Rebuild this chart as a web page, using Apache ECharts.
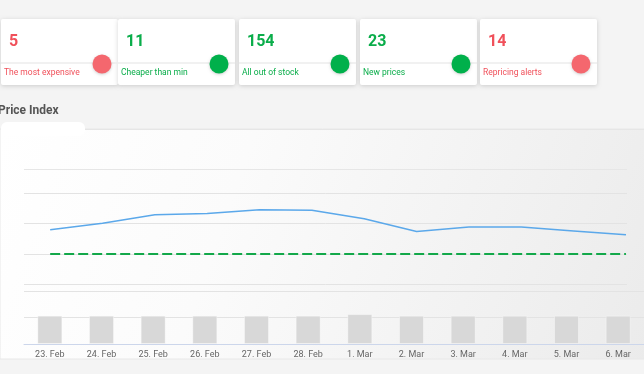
<!DOCTYPE html>
<html>
<head>
<meta charset="utf-8">
<script src="https://cdn.jsdelivr.net/npm/echarts@6/dist/echarts.min.js"></script>
<style>
html,body{margin:0;padding:0;background:#f4f4f4;}
#c{width:644px;height:374px;}
</style>
</head>
<body>
<div id="c"></div>
<script>
const categories = ['23. Feb','24. Feb','25. Feb','26. Feb','27. Feb','28. Feb','1. Mar','2. Mar','3. Mar','4. Mar','5. Mar','6. Mar'];
const priceIndex = [108.0, 110.1, 112.9, 113.3, 114.6, 114.4, 111.6, 107.4, 108.9, 108.9, 107.6, 106.3];
const targetIndex = [100, 100, 100, 100, 100, 100, 100, 100, 100, 100, 100, 100];
const volumes = [109, 109, 109, 109, 109, 109, 115, 109, 109, 109, 109, 109];
const kpiValues = [5, 11, 154, 23, 14];
const kpiLabels = ['The most expensive', 'Cheaper than min', 'All out of stock', 'New prices', 'Repricing alerts'];
const kpiGood = [false, true, true, true, false];
const titleText = 'Price Index';

const RED = '#f0505a', RED_DOT = '#f4676e', GREEN = '#0aad4a', GREEN_DOT = '#00b04b';
const font = 'Roboto, "Noto Sans", sans-serif';

const graphics = [];
graphics.push({
  type: 'rect', z: -10, silent: true,
  shape: { x: 0, y: 129, width: 650, height: 230 },
  style: {
    fill: new echarts.graphic.LinearGradient(0, 0, 1, 1, [
      { offset: 0, color: '#ffffff' },
      { offset: 0.35, color: '#fbfbfb' },
      { offset: 1, color: '#ebebeb' }
    ]),
    stroke: '#e8e8e8', lineWidth: 1
  }
});
graphics.push({
  type: 'rect', z: -9, silent: true,
  shape: { x: 1, y: 122, width: 84, height: 14, r: 6 },
  style: { fill: '#ffffff' }
});
graphics.push({
  type: 'line', z: -9, silent: true,
  shape: { x1: 85, y1: 129.5, x2: 650, y2: 129.5 },
  style: { stroke: '#e6e6e6', lineWidth: 1 }
});
graphics.push({
  type: 'text', left: -2, top: 105,
  style: { text: titleText, font: 'bold 12px ' + font, fill: '#555555' }
});
const cardX = [1, 118, 239, 360, 480];
kpiValues.forEach(function (v, i) {
  const x = cardX[i];
  const w = 117;
  const good = kpiGood[i];
  graphics.push({
    type: 'rect', z: 1, silent: true,
    shape: { x: x, y: 19, width: w, height: 66, r: 2 },
    style: { fill: '#ffffff', shadowBlur: 4, shadowColor: 'rgba(0,0,0,0.16)', shadowOffsetY: 1 }
  });
  graphics.push({
    type: 'line', z: 2, silent: true,
    shape: { x1: x, y1: 63, x2: x + w, y2: 63 },
    style: { stroke: '#ececec', lineWidth: 1.5 }
  });
  graphics.push({
    type: 'text', z: 3, x: x + 8, y: 42,
    style: { text: String(v), font: 'bold 16px ' + font, fill: good ? GREEN : RED, verticalAlign: 'middle' }
  });
  graphics.push({
    type: 'text', z: 3, x: x + 3, y: 73,
    style: { text: kpiLabels[i], font: '8.5px ' + font, fill: good ? GREEN : RED, verticalAlign: 'middle' }
  });
  graphics.push({
    type: 'circle', z: 3, silent: true,
    shape: { cx: x + w - 16, cy: 64, r: 9.5 },
    style: { fill: good ? GREEN_DOT : RED_DOT, shadowBlur: 3, shadowColor: 'rgba(0,0,0,0.18)', shadowOffsetY: 1 }
  });
});

const chart = echarts.init(document.getElementById('c'));
chart.setOption({
  animation: false,
  textStyle: { fontFamily: font },
  graphic: graphics,
  grid: [
    { left: 24, top: 169, width: 603, height: 115.3 },
    { left: 24, top: 291, width: 628, height: 53 }
  ],
  xAxis: [
    { type: 'value', gridIndex: 0, min: -0.5, max: 11.02, show: false },
    {
      type: 'category', gridIndex: 1, data: categories, boundaryGap: true,
      axisLine: { lineStyle: { color: '#ccd6eb' } },
      axisTick: { alignWithLabel: true, length: 6, lineStyle: { color: '#ccd6eb' } },
      axisLabel: { fontSize: 9, color: '#666666', margin: 6 }
    }
  ],
  yAxis: [
    {
      type: 'value', gridIndex: 0, min: 90, max: 128, interval: 10,
      axisLabel: { show: false }, axisLine: { show: false }, axisTick: { show: false },
      splitLine: { lineStyle: { color: '#e3e3e3', width: 1 } }
    },
    {
      type: 'value', gridIndex: 1, min: 0, max: 204, interval: 102,
      axisLabel: { show: false }, axisLine: { show: false }, axisTick: { show: false },
      splitLine: { lineStyle: { color: '#e3e3e3', width: 1 } }
    }
  ],
  series: [
    {
      type: 'line', xAxisIndex: 0, yAxisIndex: 0,
      data: priceIndex.map(function (v, i) { return [i, v]; }),
      symbol: 'none', lineStyle: { color: '#5ba8ea', width: 1.5 },
      markLine: {
        silent: true, symbol: 'none', label: { show: false },
        lineStyle: { color: '#e6e6e6', type: 'solid', width: 1 },
        data: [{ yAxis: 128 }]
      }
    },
    {
      type: 'line', xAxisIndex: 0, yAxisIndex: 0,
      data: targetIndex.map(function (v, i) { return [i, v]; }),
      symbol: 'none', lineStyle: { color: '#13a84a', width: 2, type: [10, 4] }
    },
    {
      type: 'bar', xAxisIndex: 1, yAxisIndex: 1,
      data: volumes, barWidth: 25,
      itemStyle: { color: '#d8d8d8', borderColor: 'rgba(255,255,255,0.35)', borderWidth: 1 }
    }
  ]
});
</script>
</body>
</html>
